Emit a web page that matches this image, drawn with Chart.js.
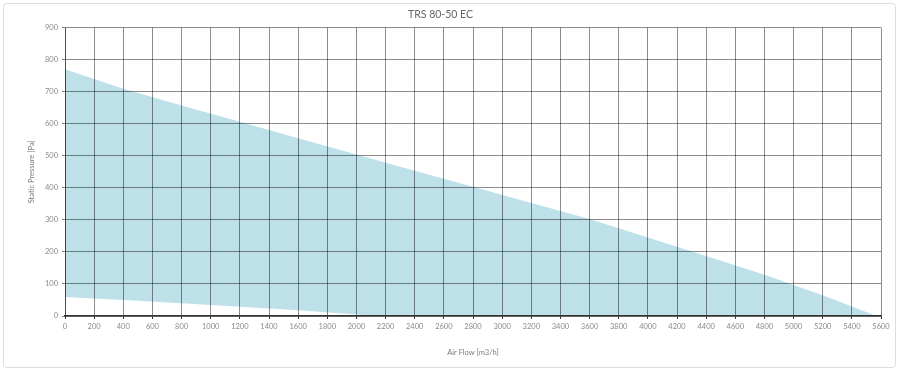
<!DOCTYPE html>
<html>
<head>
<meta charset="utf-8">
<script src="https://cdn.jsdelivr.net/npm/chart.js@4/dist/chart.umd.min.js"></script>
<style>
  html, body { margin: 0; padding: 0; background: #fff; }
</style>
</head>
<body>
<canvas id="myChart" width="900" height="374"></canvas>
<script>
// upper curve (max fan curve)
const flowUpper = [0, 400, 800, 1200, 1600, 2000, 2400, 2800, 3200, 3600, 4000, 4400, 4800, 5200, 5570];
const pressureUpper = [770, 709, 657, 606, 555, 504, 453, 403, 353, 303, 245, 187, 129, 65, 0];

// lower curve (min fan curve)
const flowLower = [0, 400, 800, 1200, 1600, 2000, 2100, 5600];
const pressureLower = [59, 50, 40, 29, 18, 5, 0, 0];

const chartTitle = "TRS 80-50 EC";
const xTitle = "Air Flow [m3/h]";
const yTitle = "Static Pressure [Pa]";

const toPoints = (xs, ys) => xs.map((x, i) => ({ x: x, y: ys[i] }));

// light frame around the whole picture
const framePlugin = {
  id: "frame",
  beforeDraw(chart) {
    const ctx = chart.ctx;
    ctx.save();
    ctx.fillStyle = "#fff";
    ctx.fillRect(0, 0, chart.width, chart.height);
    ctx.strokeStyle = "#dcdcdc";
    ctx.lineWidth = 1;
    ctx.beginPath();
    ctx.roundRect(3.5, 3.5, 892, 364, 3);
    ctx.stroke();
    ctx.restore();
  },
};

const ctx = document.getElementById("myChart").getContext("2d");
const myGraph = new Chart(ctx, {
  type: "line",
  data: {
    datasets: [
      {
        label: "max",
        data: toPoints(flowUpper, pressureUpper),
        borderWidth: 0,
        borderColor: "rgba(0,0,0,0)",
        backgroundColor: "#bee1e9",
        pointRadius: 0,
        tension: 0,
        fill: "+1",
      },
      {
        label: "min",
        data: toPoints(flowLower, pressureLower),
        borderWidth: 0,
        borderColor: "rgba(0,0,0,0)",
        pointRadius: 0,
        tension: 0,
        fill: false,
      },
    ],
  },
  options: {
    responsive: false,
    animation: false,
    layout: { padding: { left: 0, right: 19, top: 0, bottom: 0 } },
    plugins: {
      legend: { display: false },
      tooltip: { enabled: false },
      title: {
        display: true,
        text: chartTitle,
        color: "#666",
        font: { family: "Lato", size: 10.5, weight: "normal" },
        padding: { top: 8, bottom: 7 },
      },
    },
    scales: {
      x: {
        type: "linear",
        min: 0,
        max: 5600,
        afterFit: (s) => { s.height = 58; },
        grid: { color: "rgba(0,0,0,0.45)", z: 1, tickLength: 3, tickColor: "#333" },
        border: { color: "#333", width: 1.5, z: 2 },
        ticks: {
          stepSize: 200,
          autoSkip: false,
          maxRotation: 0,
          padding: 3,
          color: "#8a8a8a",
          font: { family: "Lato", size: 7.5 },
          callback: (v) => String(v),
        },
        title: {
          display: true,
          text: xTitle,
          color: "#7a7a7a",
          font: { family: "Lato", size: 7.5 },
          padding: { top: 0, bottom: 17 },
        },
      },
      y: {
        min: 0,
        max: 900,
        afterFit: (s) => { s.width = 65; },
        grid: { color: "rgba(0,0,0,0.45)", z: 1, tickLength: 3 },
        border: { color: "rgba(0,0,0,0.45)", z: 2 },
        ticks: {
          stepSize: 100,
          padding: 4,
          color: "#8a8a8a",
          font: { family: "Lato", size: 7.5 },
          callback: (v) => String(v),
        },
        title: {
          display: true,
          text: yTitle,
          color: "#7a7a7a",
          font: { family: "Lato", size: 7.5 },
          padding: { top: 27, bottom: 0 },
        },
      },
    },
  },
  plugins: [framePlugin],
});
</script>
</body>
</html>
